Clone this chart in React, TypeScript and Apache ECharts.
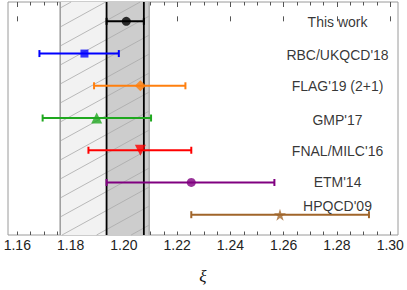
import React, { useEffect, useRef } from "react";
import * as echarts from "echarts";

// Results (xi) — names, central values and error ranges
const names = ["This work", "RBC/UKQCD'18", "FLAG'19 (2+1)", "GMP'17", "FNAL/MILC'16", "ETM'14", "HPQCD'09"];
const centers = [1.2009, 1.1852, 1.2062, 1.1898, 1.2062, 1.2253, 1.2586];
const lows = [1.1935, 1.1683, 1.1888, 1.1695, 1.1867, 1.1935, 1.2253];
const highs = [1.2075, 1.1981, 1.2231, 1.2102, 1.2253, 1.2565, 1.2920];
const colors = ["#000000", "#0000ff", "#ff7f0e", "#1fa81f", "#ff0000", "#800080", "#a0652a"];
const labelRows = [0.03, 1.03, 2.0, 3.05, 4.03, 5.0, 5.72];

// Bands
const lightBand = [1.1761, 1.2095];
const greyBand = [1.1935, 1.2095];
const thisWorkBand = [1.1935, 1.2075];

// Axis ticks
const majorTicks = [1.16, 1.18, 1.2, 1.22, 1.24, 1.26, 1.28, 1.3];
const minorTicks = [
  1.16, 1.165, 1.17, 1.175, 1.18, 1.185, 1.19, 1.195, 1.2, 1.205, 1.21, 1.215, 1.22, 1.225,
  1.23, 1.235, 1.24, 1.245, 1.25, 1.255, 1.26, 1.265, 1.27, 1.275, 1.28, 1.285, 1.29, 1.295, 1.3,
];

const X_MIN = 1.1565;
const X_MAX = 1.3029;
const Y_MIN = -0.6;
const Y_MAX = 6.63;

const STAR = "path://M50,0 L61,35 L98,35 L68,57 L79,91 L50,70 L21,91 L32,57 L2,35 L39,35 Z";
const symbols = ["circle", "rect", "diamond", "triangle", "triangle", "circle", STAR];
const symbolSizes = [9, 8, 11, 11, 11, 9, 12];
const symbolRotates = [0, 0, 0, 0, 180, 0, 0];

function hatchLines(L: number, R: number, T: number, B: number, k: number, d: number, phase: number) {
  const out: number[][] = [];
  const cMax = B + k * (R - L);
  for (let c = T + phase - d * 20; c <= cMax + d; c += d) {
    let x1 = L, y1 = c;
    let x2 = R, y2 = c - k * (R - L);
    if (y1 > B) { x1 = L + (c - B) / k; y1 = B; }
    if (y2 < T) { x2 = L + (c - T) / k; y2 = T; }
    if (x1 >= x2) continue;
    if (y1 < T || y2 > B) continue;
    out.push([x1, y1, x2, y2]);
  }
  return out;
}

export default function App() {
  const ref = useRef<HTMLDivElement>(null);
  useEffect(() => {
    if (!ref.current) return;
    const chart = echarts.init(ref.current, null, { renderer: "svg" });
    const font = "'Liberation Sans', Arial, sans-serif";
    const tickColor = "#555";
    const mkAxis = (pos: "top" | "bottom", values: number[], len: number, labels: boolean) => ({
      type: "value",
      position: pos,
      min: X_MIN,
      max: X_MAX,
      axisLine: { show: false },
      splitLine: { show: false },
      axisTick: { show: true, inside: true, length: len, customValues: values, lineStyle: { color: tickColor, width: 1 } },
      axisLabel: labels
        ? {
            show: true,
            customValues: majorTicks,
            formatter: (v: number) => v.toFixed(2),
            fontSize: 14,
            color: "#222",
            fontFamily: font,
            margin: 3,
          }
        : { show: false },
    });

    const bandSeries = {
      type: "custom",
      xAxisIndex: 0,
      yAxisIndex: 0,
      silent: true,
      z: 1,
      data: [[0]],
      renderItem: (params: any, api: any) => {
        const cs = params.coordSys;
        const T = cs.y;
        const B = cs.y + cs.height;
        const lx0 = api.coord([lightBand[0], 0])[0];
        const lx1 = api.coord([lightBand[1], 0])[0];
        const gx0 = api.coord([greyBand[0], 0])[0];
        const gx1 = api.coord([greyBand[1], 0])[0];
        const tx0 = api.coord([thisWorkBand[0], 0])[0];
        const tx1 = api.coord([thisWorkBand[1], 0])[0];
        const children: any[] = [];
        children.push({ type: "rect", shape: { x: lx0, y: T, width: lx1 - lx0, height: B - T }, style: { fill: "#f2f2f2" } });
        children.push({ type: "rect", shape: { x: gx0, y: T, width: gx1 - gx0, height: B - T }, style: { fill: "#cdcdcd" } });
        hatchLines(lx0, lx1, T, B, 0.55, 19, 6).forEach((s) => {
          children.push({
            type: "line",
            shape: { x1: s[0], y1: s[1], x2: s[2], y2: s[3] },
            style: { stroke: "#aaaaaa", lineWidth: 0.8 },
          });
        });
        children.push({ type: "line", shape: { x1: lx0, y1: T, x2: lx0, y2: B }, style: { stroke: "#a0a0a0", lineWidth: 1.6 } });
        children.push({ type: "line", shape: { x1: lx1, y1: T, x2: lx1, y2: B }, style: { stroke: "#b0b0b0", lineWidth: 1.6 } });
        children.push({ type: "line", shape: { x1: tx0, y1: T, x2: tx0, y2: B }, style: { stroke: "#000", lineWidth: 1.8 } });
        children.push({ type: "line", shape: { x1: tx1, y1: T, x2: tx1, y2: B }, style: { stroke: "#000", lineWidth: 1.8 } });
        return { type: "group", children };
      },
    };

    const errorSeries = {
      type: "custom",
      xAxisIndex: 0,
      yAxisIndex: 0,
      silent: true,
      z: 3,
      data: names.map((_, i) => [i, lows[i], highs[i]]),
      renderItem: (params: any, api: any) => {
        const i = api.value(0);
        const p0 = api.coord([api.value(1), i]);
        const p1 = api.coord([api.value(2), i]);
        const c = colors[params.dataIndex];
        const st = { stroke: c, lineWidth: 2 };
        return {
          type: "group",
          children: [
            { type: "line", shape: { x1: p0[0], y1: p0[1], x2: p1[0], y2: p1[1] }, style: st },
            { type: "line", shape: { x1: p0[0], y1: p0[1] - 3.5, x2: p0[0], y2: p0[1] + 3.5 }, style: st },
            { type: "line", shape: { x1: p1[0], y1: p1[1] - 3.5, x2: p1[0], y2: p1[1] + 3.5 }, style: st },
          ],
        };
      },
    };

    const markerSeries = {
      type: "scatter",
      xAxisIndex: 0,
      yAxisIndex: 0,
      silent: true,
      z: 4,
      data: names.map((_, i) => ({
        value: [centers[i], i],
        symbol: symbols[i],
        symbolSize: symbolSizes[i],
        symbolRotate: symbolRotates[i],
        itemStyle: { color: colors[i] },
      })),
    };

    const labelSeries = {
      type: "scatter",
      xAxisIndex: 0,
      yAxisIndex: 0,
      silent: true,
      z: 5,
      symbolSize: 0,
      data: names.map((n, i) => ({ value: [1.2802, labelRows[i]], name: n })),
      label: {
        show: true,
        position: "inside",
        formatter: (p: any) => p.name,
        fontSize: 14,
        fontFamily: font,
        color: "#000",
        align: "center",
        verticalAlign: "middle",
      },
    };

    const xAxes: any[] = [
      {
        ...mkAxis("bottom", majorTicks, 5, true),
        name: "ξ",
        nameLocation: "middle",
        nameGap: 33,
        nameTextStyle: { fontSize: 17, fontStyle: "italic", fontFamily: "'Liberation Serif', serif", color: "#111" },
      },
      mkAxis("bottom", minorTicks, 3.5, false),
      mkAxis("top", majorTicks, 5, false),
      mkAxis("top", minorTicks, 3.5, false),
    ];

    chart.setOption({
      animation: false,
      grid: {
        left: 8,
        right: 9,
        top: 2,
        bottom: 48,
        show: true,
        borderColor: "#9a9a9a",
        borderWidth: 1,
        backgroundColor: "#fff",
      },
      xAxis: xAxes,
      yAxis: { type: "value", min: Y_MIN, max: Y_MAX, inverse: true, show: false },
      series: [bandSeries, errorSeries, markerSeries, labelSeries],
    });
    return () => chart.dispose();
  }, []);
  return (
    <div
      ref={ref}
      style={{ position: "fixed", left: 0, top: 0, width: 407, height: 290, background: "#fff" }}
    />
  );
}
